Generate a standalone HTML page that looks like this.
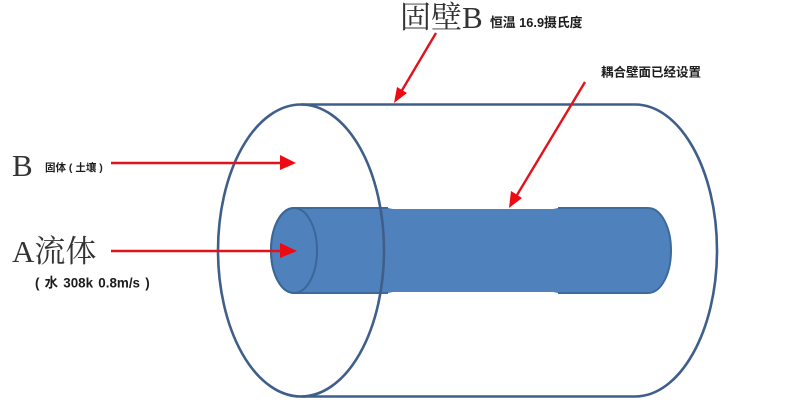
<!DOCTYPE html>
<html>
<head>
<meta charset="utf-8">
<style>
html,body{margin:0;padding:0;background:#fff;width:800px;height:404px;overflow:hidden}
svg{display:block;filter:blur(0.35px)}
.b{font-family:"Liberation Sans","Noto Sans CJK SC",sans-serif;font-weight:700;fill:#1c1c1c}
.s{font-family:"Liberation Serif","Noto Serif CJK SC",serif;fill:#333}
</style>
</head>
<body>
<svg width="800" height="404" viewBox="0 0 800 404" xmlns="http://www.w3.org/2000/svg">
<rect width="800" height="404" fill="#fff"/>
<!-- inner cylinder -->
<path d="M294 208H388L393 209H553L558 208H648C661 208 671 227 671 250.5C671 274 661 293 648 293H558L553 292H393L388 293H294C281 293 271 274 271 250.5C271 227 281 208 294 208Z" fill="#4f81bd"/>
<path d="M294 208H388M558 208H648C661 208 671 227 671 250.5C671 274 661 293 648 293H558M388 293H294C281 293 271 274 271 250.5C271 227 281 208 294 208" fill="none" stroke="#3d6a9c" stroke-width="2"/>
<ellipse cx="294" cy="250.5" rx="23" ry="42.5" fill="none" stroke="#3a6797" stroke-width="2"/>
<!-- outer cylinder -->
<ellipse cx="301" cy="250.5" rx="83" ry="146" fill="none" stroke="#3f5f8a" stroke-width="2.6"/>
<path d="M301 104.5H635C680 104.5 717 170 717 250.5C717 331 680 396.5 635 396.5H301" fill="none" stroke="#3f5f8a" stroke-width="2.6"/>
<!-- arrows -->
<g stroke="#e0131b" stroke-width="2.4" fill="none">
<path d="M111 163H284"/>
<path d="M111 251H284"/>
<path d="M436 33L401 92"/>
<path d="M585 82L517 195"/>
</g>
<g fill="#ee0a12">
<path d="M280 155L296 163L280 170Z"/>
<path d="M280 243L297 251L280 258Z"/>
<path d="M394 103L397 87L407 93Z"/>
<path d="M509 208L511 191L522 198Z"/>
</g>
<!-- labels -->
<text class="s" x="400" y="28" font-size="31">固壁B</text>
<text class="b" x="490" y="27" font-size="12.8">恒温 16.9摄氏度</text>
<text class="b" x="601" y="76.5" font-size="12.5">耦合壁面已经设置</text>
<text class="s" x="12" y="176" font-size="31">B</text>
<text class="b" x="45" y="171" font-size="10.5">固体 ( 土壤 )</text>
<text class="s" x="12" y="262" font-size="31">A流体</text>
<text class="b" x="35" y="287.500" font-size="13.4" word-spacing="1.5">( 水 308k 0.8m/s )</text>
</svg>
</body>
</html>
